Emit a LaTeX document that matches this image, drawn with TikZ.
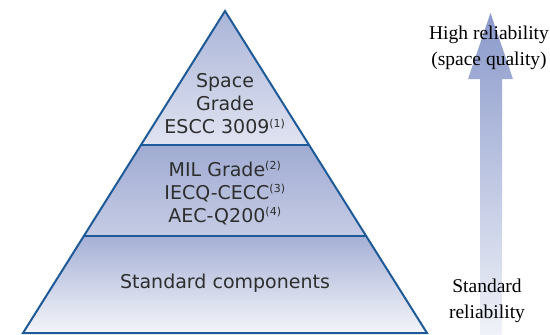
\documentclass[tikz,border=0pt]{standalone}
\usepackage{fontspec}
\setmainfont{DejaVu Sans}
\newfontfamily\serifface{Liberation Serif}
\definecolor{edgeblue}{HTML}{1F5A98}
\definecolor{pyrtext}{HTML}{2E2E2E}
\definecolor{topA}{HTML}{A9B4D7}
\definecolor{topB}{HTML}{E0E3F1}
\definecolor{midA}{HTML}{A0ABD2}
\definecolor{midB}{HTML}{C6CCE5}
\definecolor{botA}{HTML}{A5B0D5}
\definecolor{botB}{HTML}{F4F5FA}
\definecolor{arrA}{HTML}{8A99CB}
\definecolor{arrB}{HTML}{F0F2F8}
\tikzset{
  pyrlabel/.style={align=center, text=pyrtext, font=\fontsize{19}{23}\selectfont, inner sep=0pt},
  rellabel/.style={align=center, text=black, font=\serifface\fontsize{19.5}{26}\selectfont, inner sep=0pt},
  divider/.style={draw=edgeblue, line width=1.2pt},
  outline/.style={draw=edgeblue, line width=2pt, line join=miter}
}
\newcommand{\fnref}[1]{\textsuperscript{\fontsize{11}{11}\selectfont(#1)}}
\begin{document}
\begin{tikzpicture}[x=1pt,y=-1pt]
\useasboundingbox (0,0) rectangle (550,335);
% corners
\coordinate (A) at (225,11);
\coordinate (L1) at (140.9,145);
\coordinate (R1) at (309.1,145);
\coordinate (L2) at (83.9,236);
\coordinate (R2) at (366.1,236);
\coordinate (BL) at (23,333);
\coordinate (BR) at (427,333);
% shaded tiers
\shade[top color=topA, bottom color=topB] (A) -- (R1) -- (L1) -- cycle;
\shade[top color=midA, bottom color=midB] (L1) -- (R1) -- (R2) -- (L2) -- cycle;
\shade[top color=botA, bottom color=botB] (L2) -- (R2) -- (BR) -- (BL) -- cycle;
\draw[divider] (L1) -- (R1);
\draw[divider] (L2) -- (R2);
\draw[outline] (A) -- (BR) -- (BL) -- cycle;
% labels
\node[pyrlabel] (space) at (225,104) {Space\\Grade\\ESCC 3009\fnref{1}};
\node[pyrlabel] (mil) at (225,193) {MIL Grade\fnref{2}\\IECQ-CECC\fnref{3}\\AEC-Q200\fnref{4}};
\node[pyrlabel] (std) at (225,283) {Standard components};
% arrow
\shade[top color=arrA, bottom color=arrB]
  (480,335) -- (480,79) -- (468,79) -- (490.5,13) -- (513,79) -- (502,79) -- (502,335) -- cycle;
\node[rellabel] (high) at (489,48) {High reliability\\(space quality)};
\node[rellabel] (low) at (487,301) {Standard\\reliability};
\end{tikzpicture}
\end{document}
